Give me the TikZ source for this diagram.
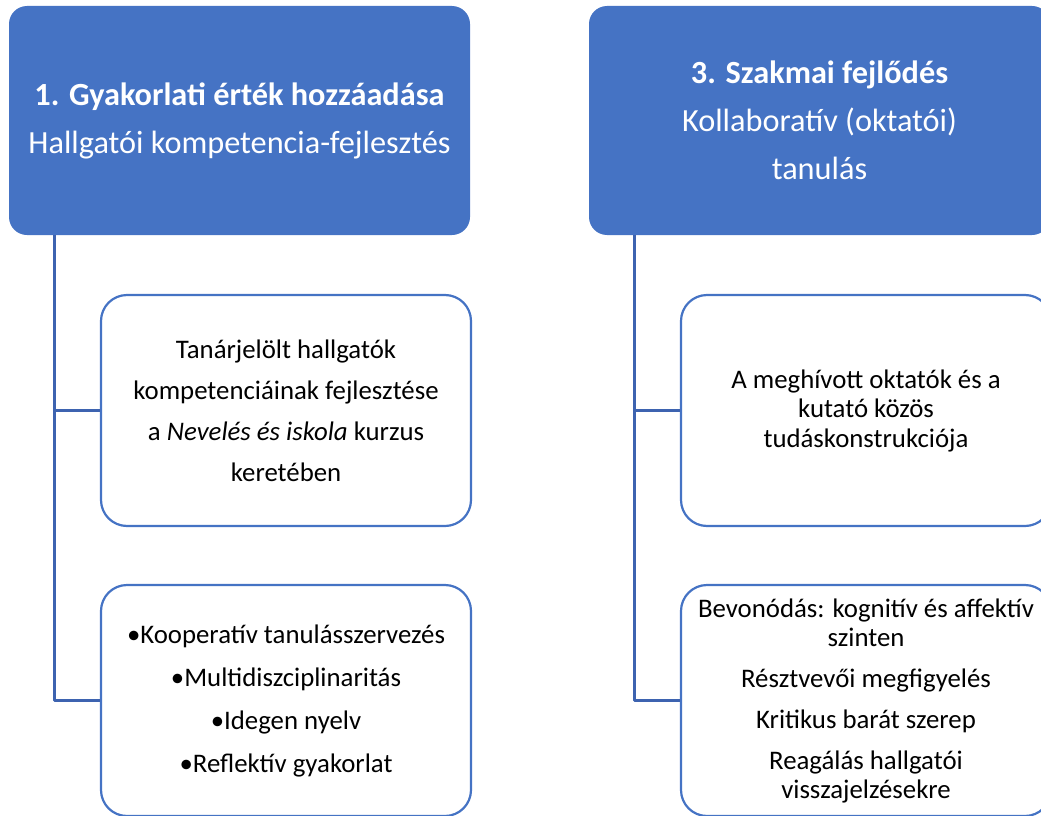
\documentclass[tikz,border=0pt]{standalone}
\usepackage{fontspec}
\setmainfont{Carlito}
\definecolor{hdrblue}{rgb}{0.27,0.45,0.77}
\definecolor{lineblue}{rgb}{0.24,0.39,0.69}

\begin{document}
\begin{tikzpicture}[line cap=round,line join=round,x=1pt,y=1pt,
  hdr/.style={rounded corners=18pt,fill=hdrblue,text=white,minimum width=461pt,minimum height=229pt,align=center,inner sep=0pt,font=\fontsize{32.3}{48}\selectfont},
  leaf/.style={rounded corners=26pt,draw=hdrblue,line width=2.2pt,fill=white,minimum width=370pt,minimum height=231pt,align=center,inner sep=0pt},
  conn/.style={draw=lineblue,line width=3pt,line cap=butt}]
\useasboundingbox (0,0) rectangle (1041,-816);
\clip (0,0) rectangle (1041,-816);
% headers
\node[hdr] (hdrA) at (239.5,-120.5) {{\bfseries 1. Gyakorlati érték hozzáadása}\\Hallgatói kompetencia-fejlesztés};
\node[hdr] (hdrB) at (819.5,-120.5) {{\bfseries 3. Szakmai fejlődés}\\Kollaboratív (oktatói)\\tanulás};
% boxes
\node[leaf,font=\fontsize{26.8}{41}\selectfont] (leafA1) at (286,-410.5) {Tanárjelölt hallgatók\\kompetenciáinak fejlesztése\\a \textit{Nevelés és iskola} kurzus\\keretében};
\node[leaf,font=\fontsize{26.8}{43}\selectfont] (leafA2) at (286,-700.5) {•Kooperatív tanulásszervezés\\•Multidiszciplinaritás\\•Idegen nyelv\\•Reflektív gyakorlat};
\node[leaf,font=\fontsize{26.8}{29.5}\selectfont] (leafB1) at (866,-410.5) {A meghívott oktatók és a\\kutató közös\\tudáskonstrukciója};
\node[leaf,font=\fontsize{26.8}{29}\selectfont] (leafB2) at (866,-700.5) {Bevonódás: kognitív és affektív\\szinten\\[12pt]Résztvevői megfigyelés\\[12pt]Kritikus barát szerep\\[12pt]Reagálás hallgatói\\visszajelzésekre};
% connectors
\coordinate (spineA) at (54,-235);
\coordinate (spineB) at (634,-235);
\draw[conn] (spineA) |- (leafA1.west);
\draw[conn] (spineA) |- (leafA2.west);
\draw[conn] (spineB) |- (leafB1.west);
\draw[conn] (spineB) |- (leafB2.west);
\end{tikzpicture}
\end{document}
